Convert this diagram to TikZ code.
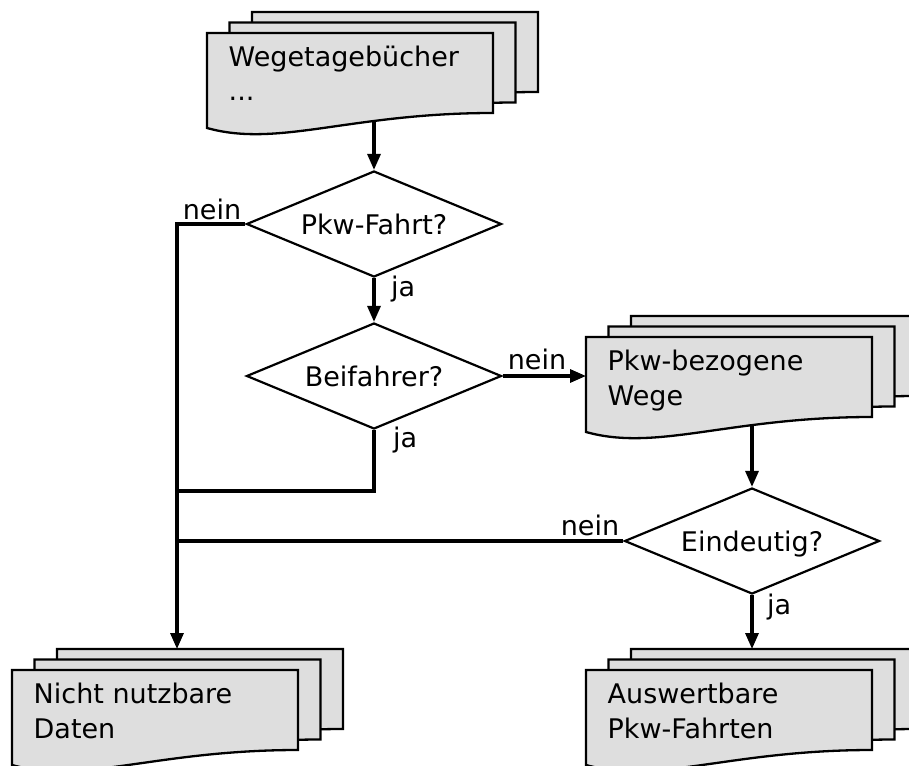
\documentclass[tikz,border=0pt]{standalone}
\usepackage{fontspec}
\setmainfont{DejaVu Sans}
\usetikzlibrary{shapes.geometric,arrows.meta,calc}
\pgfdeclarelayer{links}
\pgfsetlayers{links,main}
\definecolor{sheet}{RGB}{222,222,222}
\tikzset{
  sheetline/.style={draw=black, fill=sheet, line width=2.3pt, line join=miter},
  decision/.style={diamond, draw=black, fill=white, line width=2.2pt,
    minimum width=255pt, minimum height=106pt, inner sep=0pt, aspect=2.4,
    text depth=0pt},
  doctext/.style={anchor=base west, inner sep=0pt},
  lbl/.style={inner sep=0pt},
  conn/.style={line width=3.2pt},
  flow/.style={conn, -{Triangle[length=16pt,width=13pt]}},
}
% one sheet of a document stack: left edge #1, top edge #2, wavy bottom
\newcommand\docsheet[2]{%
  \filldraw[sheetline] ({#1},{#2}) -- ({#1+286},{#2}) -- ({#1+286},{#2+80})
    .. controls ({#1+143},{#2+80}) and ({#1+71.5},{#2+115}) .. ({#1},{#2+95}) -- cycle;}
% stack of three sheets with two lines of text: name, left, top, line 1, line 2
\newcommand\docstack[5]{%
  \docsheet{#2+45}{#3-21}
  \docsheet{#2+22.5}{#3-10.5}
  \docsheet{#2}{#3}
  \node[doctext] (#1-a) at ({#2+21.5},{#3+33.5}) {#4};
  \node[doctext] (#1-b) at ({#2+21.5},{#3+68}) {#5};}
\begin{document}
\begin{tikzpicture}[x=1pt, y=-1pt, font=\fontsize{27pt}{34pt}\selectfont]
\useasboundingbox (0,0) rectangle (909,765);
\clip (0,0) rectangle (909,765);

% document stacks
\docstack{wtb}{207}{33}{Wegetagebücher}{...}
\docstack{pkw}{586}{337}{Pkw-bezogene}{Wege}
\docstack{nnd}{12}{670}{Nicht nutzbare}{Daten}
\docstack{awp}{586}{670}{Auswertbare}{Pkw-Fahrten}

% decisions
\node[decision] (q1) at (374,224) {Pkw-Fahrt?};
\node[decision] (q2) at (374,376) {Beifahrer?};
\node[decision] (q3) at (752,541) {Eindeutig?};

% connection points on the document stacks
\coordinate (wtb-out) at (374,116);
\coordinate (pkw-in)  at (586,376);
\coordinate (pkw-out) at (752,420);
\coordinate (nnd-in)  at (177,649);
\coordinate (awp-in)  at (752,649);
\coordinate (j1)      at (177,491);

\begin{pgfonlayer}{links}
  \draw[flow] (wtb-out) -- (q1.north);
  \draw[flow] (q1.south) -- (q2.north);
  \draw[flow] (q2.east) -- (pkw-in);
  \draw[flow] (pkw-out) -- (q3.north);
  \draw[flow] (q3.south) -- (awp-in);
  \draw[flow] (q1.west) -| (nnd-in);
  \draw[conn] (q2.south) |- (j1);
  \draw[conn] (q3.west) -- (q3.west -| nnd-in);
\end{pgfonlayer}

% branch labels
\node[lbl, anchor=base east] (l1n) at ([shift={(-4,-5)}]q1.west) {nein};
\node[lbl, anchor=base west] (l1j) at ([shift={(17,18)}]q1.south) {ja};
\node[lbl, anchor=base west] (l2n) at ([shift={(5,-7)}]q2.east) {nein};
\node[lbl, anchor=base west] (l2j) at ([shift={(19,17)}]q2.south) {ja};
\node[lbl, anchor=base east] (l3n) at ([shift={(-4,-6)}]q3.west) {nein};
\node[lbl, anchor=base west] (l3j) at ([shift={(15,19)}]q3.south) {ja};
\end{tikzpicture}
\end{document}
